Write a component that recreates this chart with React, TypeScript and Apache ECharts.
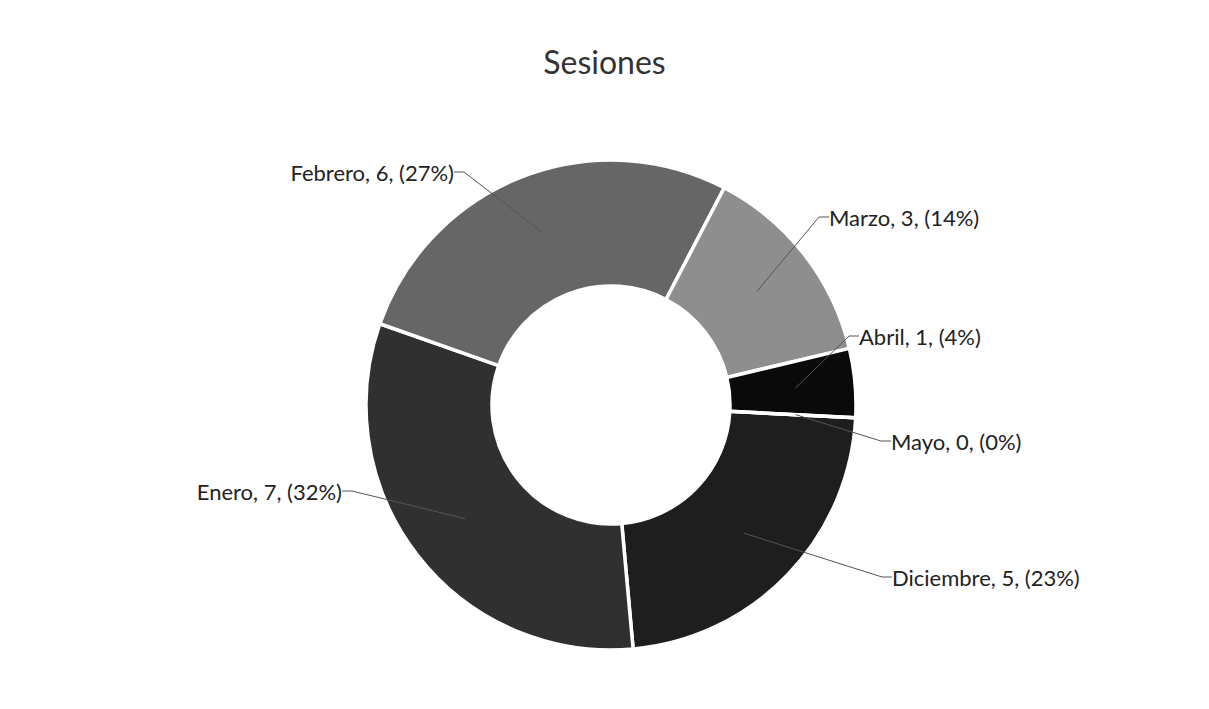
import React, { useEffect, useRef } from "react";
import * as echarts from "echarts";

const TITLE = "Sesiones";
const MONTHS = ["Diciembre", "Enero", "Febrero", "Marzo", "Abril", "Mayo"];
const SESSIONS = [5, 7, 6, 3, 1, 0];
const COLORS = ["#1e1e1e", "#303030", "#666666", "#8e8e8e", "#0a0a0a", "#1e1e1e"];
// label anchor positions (layout only)
const LABEL_POS: [number, number, "left" | "right"][] = [
  [885, 577, "left"],
  [349, 491, "right"],
  [461, 172, "right"],
  [822, 217, "left"],
  [852, 336, "left"],
  [884, 441, "left"],
];

export default function App() {
  const ref = useRef<HTMLDivElement>(null);
  useEffect(() => {
    if (!ref.current) return;
    const chart = echarts.init(ref.current, null, { renderer: "svg" });
    const data = MONTHS.map((m, i) => ({
      name: m,
      value: SESSIONS[i],
      itemStyle: { color: COLORS[i] },
    }));
    chart.setOption({
      animation: false,
      backgroundColor: "#ffffff",
      title: {
        text: TITLE,
        left: "center",
        top: 40,
        textStyle: {
          fontFamily: "Lato",
          fontSize: 32,
          fontWeight: "normal",
          color: "#333333",
        },
      },
      series: [
        {
          type: "pie",
          center: [611, 405],
          radius: [119, 245],
          startAngle: -3,
          clockwise: true,
          percentPrecision: 0,
          silent: true,
          itemStyle: { borderColor: "#ffffff", borderWidth: 3.5 },
          label: { show: false },
          labelLine: { show: false },
          data,
        },
        {
          type: "pie",
          center: [611, 405],
          radius: [0, 185],
          startAngle: -3,
          clockwise: true,
          percentPrecision: 0,
          silent: true,
          z: 5,
          itemStyle: { color: "rgba(0,0,0,0)" },
          label: {
            show: true,
            position: "outside",
            formatter: "{b}, {c}, ({d}%)",
            fontFamily: "Lato",
            fontSize: 22,
            color: "#222222",
            padding: [0, 7],
          },
          labelLine: {
            show: true,
            length: 20,
            length2: 10,
            lineStyle: { color: "#555555", width: 1 },
          },
          labelLayout: (params: any) => {
            const p = LABEL_POS[params.dataIndex];
            return { x: p[0], y: p[1], align: p[2], verticalAlign: "middle" };
          },
          data: MONTHS.map((m, i) => ({ name: m, value: SESSIONS[i] })),
        },
      ],
    });
    return () => chart.dispose();
  }, []);
  return (
    <div
      ref={ref}
      style={{ position: "absolute", left: 0, top: 0, width: 1209, height: 709 }}
    />
  );
}
